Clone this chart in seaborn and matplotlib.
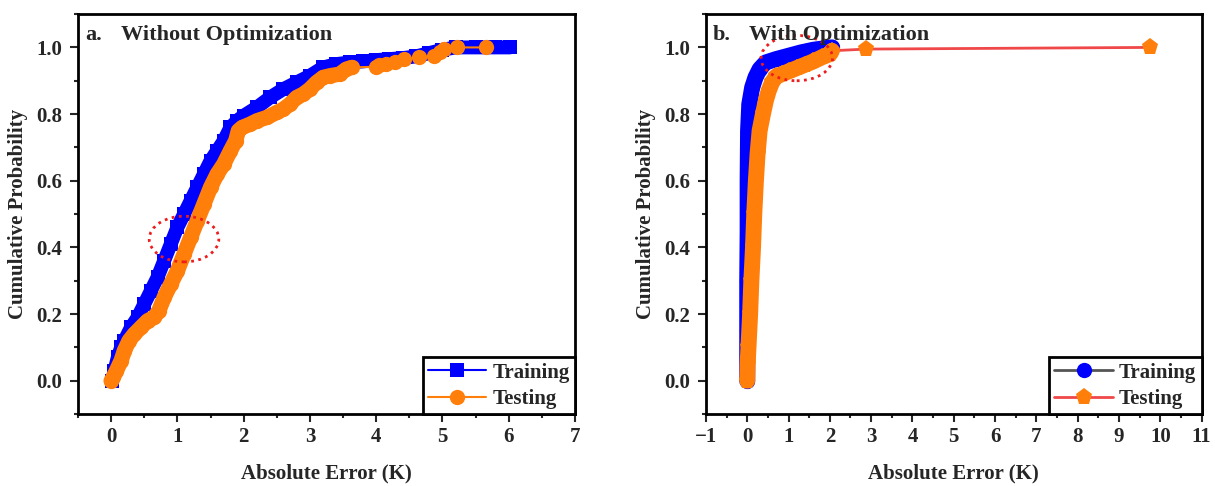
# cdf of absolute errors, before / after optimization
# two panels side by side

import matplotlib
matplotlib.use('Agg')
import matplotlib.pyplot as plt
from matplotlib.patches import Ellipse
from matplotlib.ticker import MultipleLocator
import seaborn as sns

sns.set_style('ticks')
plt.rcParams['font.family'] = ['Liberation Serif', 'DejaVu Serif']
plt.rcParams['font.weight'] = 'bold'
plt.rcParams['axes.labelweight'] = 'bold'

# panel a - without optimization
train_a_x = [0.02, 0.05, 0.1, 0.15, 0.2, 0.3, 0.4, 0.5, 0.6, 0.7, 0.8, 0.9, 1.0, 1.1,
             1.2, 1.3, 1.4, 1.5, 1.6, 1.7, 1.8, 1.9, 2.0, 2.2, 2.4, 2.6, 2.8, 3.0, 3.2,
             3.4, 3.6, 3.8, 4.0, 4.2, 4.4, 4.6, 4.8, 5.0, 5.2, 5.5, 5.8, 6.02]
train_a_y = [0.0, 0.03, 0.07, 0.1, 0.12, 0.16, 0.19, 0.23, 0.27, 0.31, 0.36, 0.41, 0.46, 0.5,
             0.54, 0.58, 0.62, 0.66, 0.69, 0.72, 0.76, 0.78, 0.795, 0.82, 0.85, 0.875, 0.895, 0.915, 0.94,
             0.95, 0.955, 0.958, 0.962, 0.965, 0.968, 0.973, 0.983, 0.993, 1.0, 1.0, 1.0, 1.0]

test_a_x = [0.0, 0.03, 0.08, 0.15, 0.2, 0.27, 0.35, 0.45, 0.55, 0.65, 0.72, 0.8, 0.9, 1.0,
            1.1, 1.2, 1.3, 1.4, 1.5, 1.6, 1.7, 1.8, 1.88, 1.92, 1.98, 2.1, 2.2, 2.35, 2.5,
            2.6, 2.7, 2.8, 2.9, 3.0, 3.1, 3.2, 3.3, 3.45, 3.55, 3.63,
            4.0, 4.05, 4.15, 4.28, 4.42, 4.65, 4.87, 4.97, 5.03, 5.22, 5.66]
test_a_y = [0.0, 0.01, 0.03, 0.06, 0.09, 0.12, 0.14, 0.16, 0.18, 0.19, 0.21, 0.25, 0.29, 0.33,
            0.38, 0.43, 0.48, 0.53, 0.58, 0.62, 0.65, 0.69, 0.72, 0.75, 0.76, 0.77, 0.78, 0.79, 0.805,
            0.815, 0.83, 0.85, 0.86, 0.875, 0.895, 0.91, 0.915, 0.92, 0.935, 0.94,
            0.942, 0.946, 0.95, 0.955, 0.965, 0.97, 0.975, 0.985, 0.995, 1.0, 1.0]

# panel b - with optimization
train_b_x = [0.0, 0.0, 0.0, 0.01, 0.01, 0.02, 0.05, 0.12, 0.2, 0.3, 0.45, 0.7, 1.0, 1.3,
             1.6, 1.9, 2.05]
train_b_y = [0.0, 0.15, 0.3, 0.45, 0.6, 0.75, 0.83, 0.88, 0.91, 0.935, 0.955, 0.965, 0.975, 0.985,
             0.993, 0.998, 1.0]

test_b_x = [0.0, 0.01, 0.03, 0.07, 0.1, 0.14, 0.17, 0.21, 0.25, 0.3, 0.38, 0.45, 0.52, 0.6,
            0.7, 0.85, 1.0, 1.2, 1.4, 1.6, 1.8, 2.0, 2.05, 2.88, 9.75]
test_b_y = [0.0, 0.05, 0.1, 0.2, 0.3, 0.4, 0.5, 0.6, 0.68, 0.75, 0.8, 0.84, 0.87, 0.895,
            0.913, 0.92, 0.928, 0.938, 0.948, 0.958, 0.97, 0.98, 0.99, 0.995, 1.0]

BLUE = '#0000ff'
ORANGE = '#ff7f0a'
FS = 15


def band(ax, x, y, color, width, z):
    # the original markers overlap so much they make a solid band
    sns.lineplot(x=x, y=y, ax=ax, sort=False, estimator=None, color=color,
                 linewidth=width, legend=False, solid_capstyle='round',
                 solid_joinstyle='round', zorder=z)


def style_axes(ax, xlim, tag, title):
    ax.set_xlim(*xlim)
    ax.set_ylim(-0.1, 1.1)
    ax.xaxis.set_major_locator(MultipleLocator(1))
    ax.xaxis.set_minor_locator(MultipleLocator(0.5))
    ax.yaxis.set_major_locator(MultipleLocator(0.2))
    ax.yaxis.set_minor_locator(MultipleLocator(0.1))
    ax.tick_params(which='major', length=5.5, width=1.5, labelsize=FS)
    ax.tick_params(which='minor', length=3, width=1.5)
    ax.tick_params(axis='x', which='major', pad=4)
    ax.tick_params(axis='y', which='major', pad=6)
    ax.set_yticklabels([f'{v:.1f}' for v in ax.get_yticks()])
    for s in ax.spines.values():
        s.set_linewidth(2)
        s.set_color('black')
    ax.set_xlabel('Absolute Error (K)', fontsize=FS, labelpad=12)
    ax.set_ylabel('Cumulative Probability', fontsize=FS, labelpad=6)
    ax.text(0.014, 0.934, tag, transform=ax.transAxes, fontsize=16, va='baseline', zorder=12)
    ax.text(0.087, 0.934, title, transform=ax.transAxes, fontsize=16, va='baseline', zorder=12)
    leg = ax.legend(loc='lower right', frameon=True, fancybox=False, edgecolor='black',
                    framealpha=1, borderaxespad=0, handlelength=2.8, handletextpad=0.3,
                    labelspacing=0.3, borderpad=0.25, prop={'size': FS, 'weight': 'bold'})
    leg.get_frame().set_linewidth(2)
    leg.set_zorder(20)


fig = plt.figure(figsize=(12.15, 4.86), dpi=100)
ax1 = fig.add_axes([0.0642, 0.148, 0.409, 0.823])
ax2 = fig.add_axes([0.581, 0.148, 0.408, 0.823])

# --- panel a  (band drawn above its own thin line so the line only shows where points are sparse)
sns.lineplot(x=train_a_x, y=train_a_y, ax=ax1, sort=False, estimator=None, color=BLUE,
             marker='s', markersize=9.5, markeredgewidth=0, linewidth=1.5, label='Training',
             zorder=2)
band(ax1, train_a_x, train_a_y, BLUE, 10, 2.1)
sns.lineplot(x=test_a_x, y=test_a_y, ax=ax1, sort=False, estimator=None, color=ORANGE,
             marker='o', markersize=11, markeredgewidth=0, linewidth=1.5, label='Testing',
             zorder=2.2)
band(ax1, test_a_x[:40], test_a_y[:40], ORANGE, 11, 2.3)
ax1.add_patch(Ellipse((1.1, 0.425), 1.05, 0.137, fill=False, edgecolor='#ee1c1c',
                      linestyle=(0, (1, 1.6)), linewidth=2, zorder=10))
style_axes(ax1, (-0.5, 7), 'a.', 'Without Optimization')

# --- panel b
sns.lineplot(x=train_b_x, y=train_b_y, ax=ax2, sort=False, estimator=None, color='#555555',
             marker='o', markersize=11, markerfacecolor=BLUE, markeredgewidth=0,
             linewidth=2, label='Training', zorder=2)
band(ax2, train_b_x, train_b_y, BLUE, 11.5, 2.1)
sns.lineplot(x=test_b_x, y=test_b_y, ax=ax2, sort=False, estimator=None, color='#f04848',
             marker='p', markersize=12.5, markerfacecolor=ORANGE, markeredgewidth=0,
             linewidth=2, label='Testing', zorder=2.2)
band(ax2, test_b_x[:23], test_b_y[:23], ORANGE, 11.5, 2.3)
ax2.add_patch(Ellipse((1.2, 0.968), 1.73, 0.136, fill=False, edgecolor='#ee1c1c',
                      linestyle=(0, (1, 1.6)), linewidth=2, zorder=10))
style_axes(ax2, (-1, 11), 'b.', 'With Optimization')

fig.savefig('out.png', dpi=100)
plt.close(fig)
